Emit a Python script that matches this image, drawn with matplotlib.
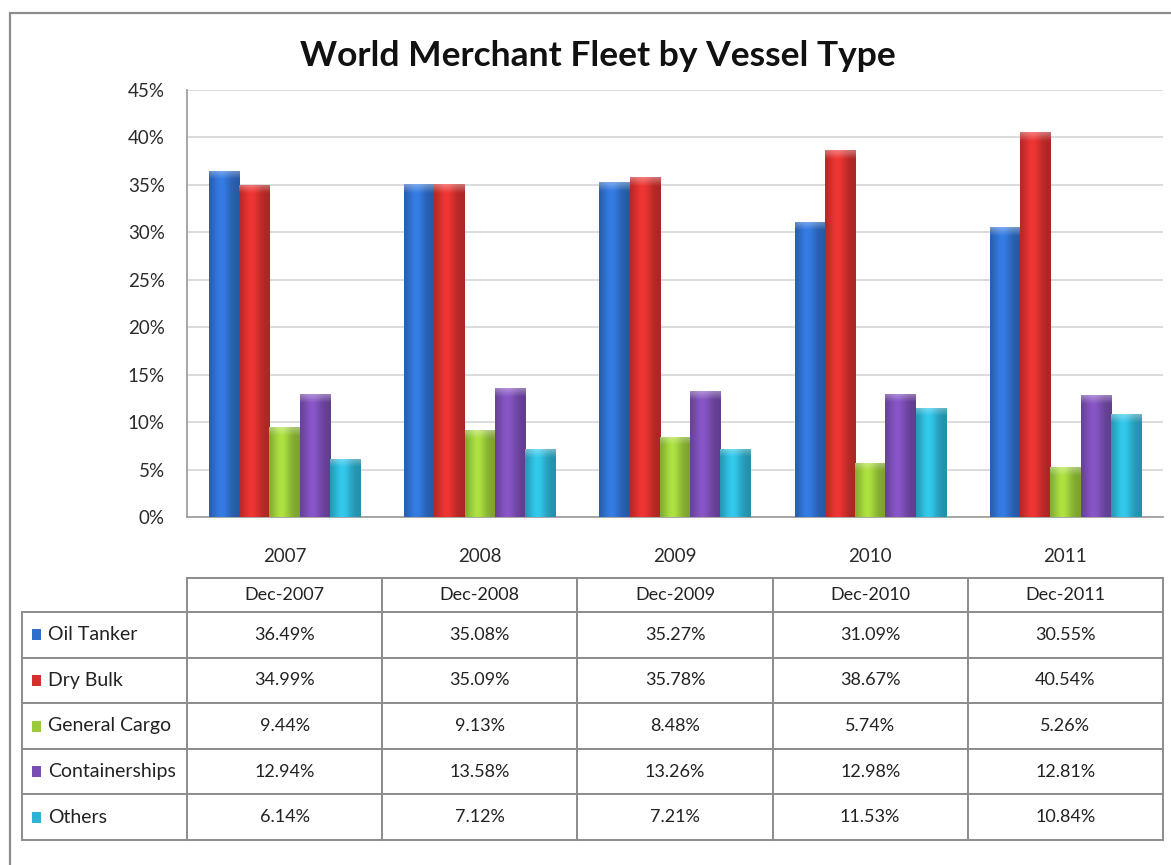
import numpy as np
import matplotlib.pyplot as plt
from matplotlib.colors import to_rgb
from matplotlib.patches import Rectangle
from matplotlib.table import Table

plt.rcParams['font.family'] = ['Lato', 'DejaVu Sans']

# ---------------------------------------------
# Data: share of world merchant fleet (%)
# ---------------------------------------------
years = ["2007", "2008", "2009", "2010", "2011"]
periods = ["Dec-2007", "Dec-2008", "Dec-2009", "Dec-2010", "Dec-2011"]
vessel_types = ["Oil Tanker", "Dry Bulk", "General Cargo", "Containerships", "Others"]

oil_tanker = [36.49, 35.08, 35.27, 31.09, 30.55]
dry_bulk = [34.99, 35.09, 35.78, 38.67, 40.54]
general_cargo = [9.44, 9.13, 8.48, 5.74, 5.26]
containerships = [12.94, 13.58, 13.26, 12.98, 12.81]
others = [6.14, 7.12, 7.21, 11.53, 10.84]

series = [oil_tanker, dry_bulk, general_cargo, containerships, others]
colors = ["#2f6fcc", "#d6302e", "#9bca3a", "#7a4db2", "#2db4d4"]

W, H = 1171, 865
fig = plt.figure(figsize=(W / 100, H / 100), dpi=100)
fig.patch.set_facecolor("white")


def shade(ax, bar, color):
    # cylinder-like shading clipped to the bar, with a lighter top cap
    x0, w, h = bar.get_x(), bar.get_width(), bar.get_height()
    base = np.array(to_rgb(color))
    u = np.linspace(0, 1, 40)
    prof = 0.8 + 0.32 * np.exp(-((u - 0.4) / 0.3) ** 2)
    ny = 500
    t = np.linspace(0, 1, ny)
    cap = min(0.9 / h, 0.5)
    capmask = np.clip((t - (1 - cap)) / cap, 0, 1)
    img = base[None, None, :] * prof[None, :, None] * np.ones((ny, 1, 1))
    img = img + (1 - img) * (0.35 * capmask)[:, None, None]
    img = np.clip(img, 0, 1)
    im = ax.imshow(img, extent=(x0, x0 + w, 0, h), origin="lower",
                   aspect="auto", zorder=3, interpolation="bilinear")
    im.set_clip_path(bar)


# ---------------------------------------------
# Bar chart
# ---------------------------------------------
ax = fig.add_axes([187 / W, 1 - 517 / H, (1163 - 187) / W, (517 - 90) / H])
x = np.arange(len(years))
width = 0.155
for i, (vals, c) in enumerate(zip(series, colors)):
    bars = ax.bar(x + (i - 2) * width, vals, width, color=c, zorder=2,
                  label=vessel_types[i])
    for b in bars:
        shade(ax, b, c)

ax.set_xlim(-0.5, len(years) - 0.5)
ax.set_ylim(0, 45)
ax.set_yticks(np.arange(0, 46, 5))
ax.set_yticklabels([f"{v}%" for v in range(0, 46, 5)])
ax.set_xticks(x)
ax.set_xticklabels(years)
ax.tick_params(axis="x", length=0, pad=22, labelsize=13.5, labelcolor="#2a2a2a")
ax.tick_params(axis="y", length=0, pad=16, labelsize=13.5, labelcolor="#2a2a2a")
ax.yaxis.grid(True, color="#d9d9d9", linewidth=1.3)
ax.set_axisbelow(True)
for side in ["top", "right"]:
    ax.spines[side].set_visible(False)
for side in ["left", "bottom"]:
    ax.spines[side].set_color("#a0a0a0")
    ax.spines[side].set_linewidth(1.3)

# ---------------------------------------------
# Data table below the chart
# ---------------------------------------------
tax = fig.add_axes([22 / W, 1 - 840 / H, (1163 - 22) / W, (840 - 578) / H])
tax.axis("off")
tbl = Table(tax, bbox=[0, 0, 1, 1])
label_w, col_w = 165, 195.2
head_h, row_h = 34, (840 - 612) / len(vessel_types)

for j, p in enumerate(periods):
    tbl.add_cell(0, j + 1, col_w, head_h, text=p, loc="center",
                 facecolor="white")
for i, (name, vals) in enumerate(zip(vessel_types, series)):
    tbl.add_cell(i + 1, 0, label_w, row_h, text=name, loc="left",
                 facecolor="white")
    for j, v in enumerate(vals):
        tbl.add_cell(i + 1, j + 1, col_w, row_h, text=f"{v:.2f}%",
                     loc="center", facecolor="white")

tbl.auto_set_font_size(False)
for (r, c), cell in tbl.get_celld().items():
    cell.set_edgecolor("#8c8c8c")
    cell.set_linewidth(1.4)
    cell.get_text().set_color("#222222")
    if c == 0:
        cell.PAD = 26 / label_w
        cell.get_text().set_fontsize(14)
    else:
        cell.get_text().set_fontsize(13)
tax.add_table(tbl)

# legend keys in the row labels
for i, c in enumerate(colors):
    yc = 612 + row_h * (i + 0.5)
    tax.add_patch(Rectangle(((32 - 22) / 1141, (840 - yc - 5.5) / 262),
                            9 / 1141, 11 / 262, transform=tax.transAxes,
                            facecolor=c, edgecolor="none", clip_on=False,
                            zorder=5))

# ---------------------------------------------
# Title and chart border
# ---------------------------------------------
fig.text(598 / W, 1 - 56 / H, "World Merchant Fleet by Vessel Type",
         ha="center", va="center", fontsize=25.5, fontweight="bold", color="#111111")
fig.add_artist(Rectangle((10 / W, -0.1), 1.2, 1 - 13 / H + 0.1,
                         transform=fig.transFigure, fill=False,
                         edgecolor="#8c8c8c", linewidth=1.6))

fig.savefig("out.png", dpi=100)
